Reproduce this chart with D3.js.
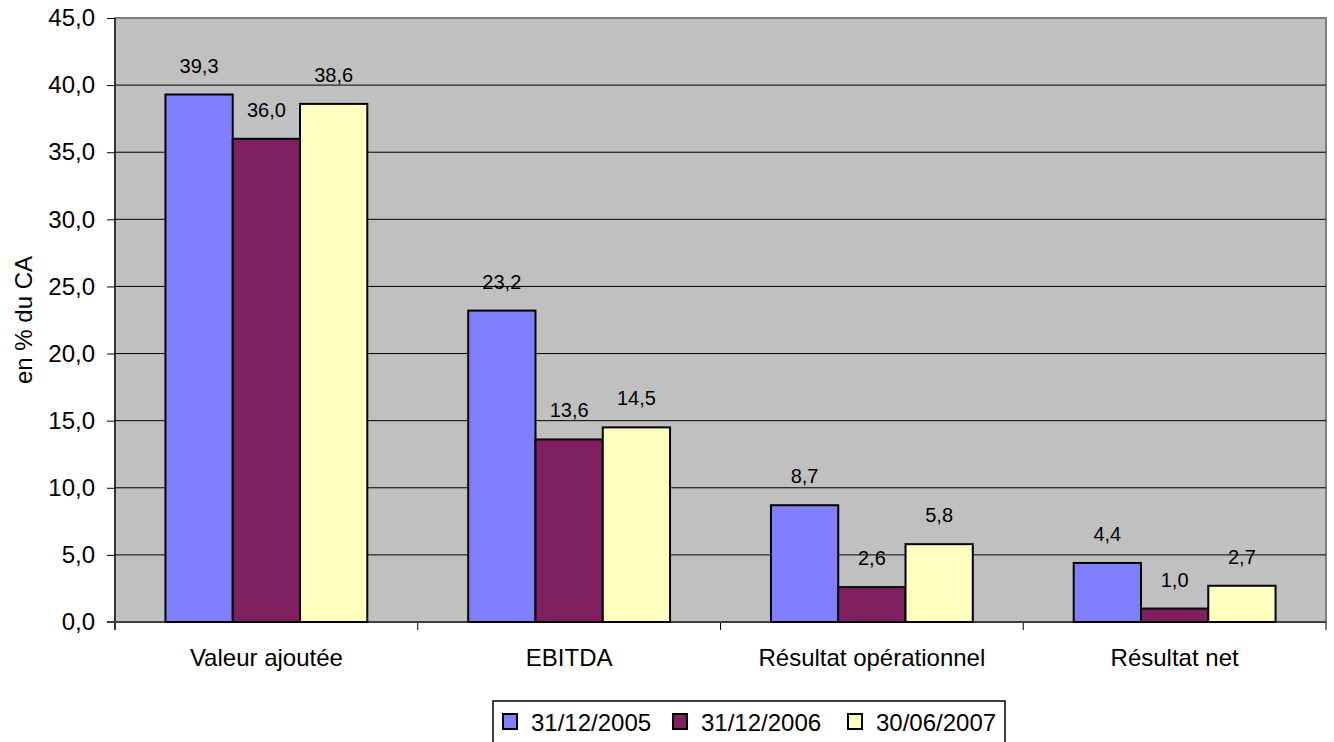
<!DOCTYPE html>
<html>
<head>
<meta charset="utf-8">
<script src="https://cdn.jsdelivr.net/npm/d3@7"></script>
<style>
  body { margin: 0; background: #fff; }
  text { font-family: "Liberation Sans", Arial, sans-serif; fill: #000; }
</style>
</head>
<body>
<div id="chart"></div>
<script>
// Chart data
var categories = ["Valeur ajoutée", "EBITDA", "Résultat opérationnel", "Résultat net"];
var seriesNames = ["31/12/2005", "31/12/2006", "30/06/2007"];
var seriesColors = ["#8080FF", "#802060", "#FFFFC0"];
var values2005 = [39.3, 23.2, 8.7, 4.4];
var values2006 = [36.0, 13.6, 2.6, 1.0];
var values2007 = [38.6, 14.5, 5.8, 2.7];
var yTicks = [0, 5, 10, 15, 20, 25, 30, 35, 40, 45];

var seriesValues = [values2005, values2006, values2007];

var svgWidth = 1334;
var svgHeight = 742;

// plot area
var plot = { left: 115, right: 1326, top: 18, bottom: 622 };

var svg = d3.select("#chart")
    .append("svg")
    .attr("width", svgWidth)
    .attr("height", svgHeight);

var fmt = d => d3.format(".1f")(d).replace(".", ",");

// scales
var y = d3.scaleLinear()
    .domain([0, 45])
    .range([plot.bottom, plot.top]);

var x0 = d3.scaleBand()
    .domain(categories)
    .range([plot.left, plot.right])
    .paddingInner(1 / 3)
    .paddingOuter(1 / 6);

var x1 = d3.scaleBand()
    .domain(d3.range(seriesNames.length))
    .range([0, x0.bandwidth()]);

// plot background
svg.append("rect")
    .attr("x", plot.left)
    .attr("y", plot.top)
    .attr("width", plot.right - plot.left)
    .attr("height", plot.bottom - plot.top)
    .attr("fill", "#C0C0C0")
    .attr("stroke", "#808080")
    .attr("stroke-width", 2);

// gridlines
svg.append("g")
    .selectAll("line")
    .data(yTicks.filter(t => t > 0 && t < 45))
    .join("line")
    .attr("x1", plot.left)
    .attr("x2", plot.right)
    .attr("y1", d => y(d))
    .attr("y2", d => y(d))
    .attr("stroke", "#000")
    .attr("stroke-width", 1);

// y axis
var yAxis = svg.append("g")
    .attr("transform", `translate(${plot.left},0)`)
    .call(d3.axisLeft(y).tickValues(yTicks).tickFormat(fmt).tickSize(8).tickPadding(12));
yAxis.select(".domain").attr("stroke", "#000").attr("stroke-width", 1.2)
    .attr("d", `M0,${plot.top}V${plot.bottom + 8}`);
yAxis.selectAll(".tick line").attr("stroke", "#000");
yAxis.selectAll("text")
    .style("font-size", "24px")
    .attr("fill", "#000");

// x axis
var bounds = categories.map(c => x0(c) - x0.step() * x0.paddingInner() / 2);
bounds.push(plot.right);
svg.append("g")
    .selectAll("line")
    .data(bounds)
    .join("line")
    .attr("x1", d => d)
    .attr("x2", d => d)
    .attr("y1", plot.bottom)
    .attr("y2", plot.bottom + 8)
    .attr("stroke", "#000");

svg.append("line")
    .attr("x1", plot.left - 8)
    .attr("x2", plot.right)
    .attr("y1", plot.bottom)
    .attr("y2", plot.bottom)
    .attr("stroke", "#404040")
    .attr("stroke-width", 2);

svg.append("g")
    .selectAll("text")
    .data(categories)
    .join("text")
    .attr("x", d => x0(d) + x0.bandwidth() / 2)
    .attr("y", 666)
    .attr("text-anchor", "middle")
    .style("font-size", "24px")
    .text(d => d);

// bars
var groups = svg.append("g")
    .selectAll("g")
    .data(categories)
    .join("g")
    .attr("transform", d => `translate(${x0(d)},0)`);

groups.selectAll("rect")
    .data((c, i) => seriesValues.map((vals, s) => ({ s: s, v: vals[i] })))
    .join("rect")
    .attr("x", d => x1(d.s))
    .attr("y", d => y(d.v))
    .attr("width", x1.bandwidth())
    .attr("height", d => y(0) - y(d.v))
    .attr("fill", d => seriesColors[d.s])
    .attr("stroke", "#000")
    .attr("stroke-width", 2);

groups.selectAll("text")
    .data((c, i) => seriesValues.map((vals, s) => ({ s: s, v: vals[i] })))
    .join("text")
    .attr("x", d => x1(d.s) + x1.bandwidth() / 2)
    .attr("y", d => y(d.v) - 22)
    .attr("text-anchor", "middle")
    .style("font-size", "20px")
    .text(d => fmt(d.v));

// y axis title
svg.append("text")
    .attr("transform", `translate(32, ${(plot.top + plot.bottom) / 2}) rotate(-90)`)
    .attr("text-anchor", "middle")
    .style("font-size", "24px")
    .text("en % du CA");

// legend
var legend = svg.append("g");
legend.append("rect")
    .attr("x", 493)
    .attr("y", 701)
    .attr("width", 512)
    .attr("height", 46)
    .attr("fill", "#fff")
    .attr("stroke", "#000")
    .attr("stroke-width", 1.5);

var itemX = [502, 672, 847];
var items = legend.selectAll(".item")
    .data(seriesNames)
    .join("g")
    .attr("class", "item")
    .attr("transform", (d, i) => `translate(${itemX[i]},0)`);

items.append("rect")
    .attr("x", 1)
    .attr("y", 714)
    .attr("width", 14)
    .attr("height", 15)
    .attr("fill", (d, i) => seriesColors[i])
    .attr("stroke", "#000")
    .attr("stroke-width", 2);

items.append("text")
    .attr("x", 29)
    .attr("y", 731)
    .style("font-size", "24px")
    .text(d => d);
</script>
</body>
</html>
